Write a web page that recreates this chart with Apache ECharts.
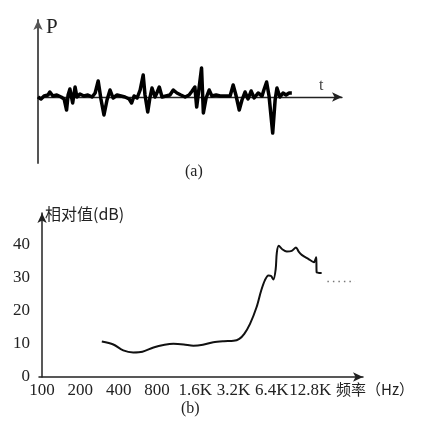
<!DOCTYPE html>
<html>
<head>
<meta charset="utf-8">
<script src="https://cdn.jsdelivr.net/npm/echarts@6/dist/echarts.min.js"></script>
<style>
  html, body { margin: 0; padding: 0; background: #fff; }
  #chart { width: 431px; height: 424px; }
</style>
</head>
<body>
<div id="chart"></div>
<script>
// (a) sound pressure over time: t in arbitrary units, p relative to baseline
const signalT = [0, 1.0, 2.0, 3.3, 3.9, 4.9, 6.2, 7.6, 8.6, 9.4, 9.9, 10.5, 11.4, 12.2, 12.8, 13.8, 15.1, 16.4, 17.8, 18.8,
  19.8, 20.7, 21.7, 22.7, 23.7, 24.7, 26.0, 27.3, 28.6, 30.0, 30.8, 31.6, 32.6, 33.6, 34.6, 35.2, 36.1, 36.8, 37.5, 38.5,
  39.1, 39.9, 40.8, 42.1, 43.4, 44.5, 45.7, 47.0, 48.4, 49.7, 50.7, 51.6, 52.2, 52.9, 53.8, 54.4, 55.3, 56.3, 57.2, 58.6,
  59.9, 61.5, 63.2, 64.2, 65.1, 66.2, 67.1, 68.1, 69.1, 70.1, 71.1, 72.4, 73.7, 74.3, 75.2, 76.0, 77.2, 78.0, 78.6, 79.6,
  80.6, 81.6, 82.6, 83.5];
const signalP = [0, -0.2, 0.1, 0.2, 0.5, 0.1, 0.2, 0, -0.2, -1.3, 0.2, 0.8, -0.6, 1.0, 0, 0.3, 0.1, 0.2, 0, 0.4,
  1.6, -0.2, -1.8, -0.3, 0.7, -0.1, 0.2, 0.1, 0, -0.2, -0.6, 0.1, -0.1, 0.7, 2.2, 0.2, -1.5, -0.1, 0.9, 0,
  0.4, 1.0, 0, 0.1, 0.2, 0.7, 0.4, 0.2, 0, 0.2, 0.6, 1.0, -1.0, 0.7, 2.9, -1.6, -0.1, 0.7, 0.1, 0.2,
  0.1, 0.1, 0.1, 1.2, 0.2, -1.3, -0.3, 0.5, -0.2, 0.6, -0.1, 0.4, 0.1, 0.7, 1.5, 0.1, -3.6, -0.3, 0.9, 0,
  0.4, 0.2, 0.4, 0.4];

// (b) spectrum: octaves above 100 Hz vs relative level in dB
const freqLabels = ['100', '200', '400', '800', '1.6K', '3.2K', '6.4K', '12.8K'];
const octaves = [1.56, 1.86, 2.12, 2.38, 2.62, 2.91, 3.2, 3.43, 3.7, 3.95, 4.2, 4.47, 4.75, 5.0, 5.15, 5.28, 5.43, 5.6,
  5.72, 5.82, 5.91, 5.98, 6.04, 6.1, 6.13, 6.18, 6.28, 6.39, 6.52, 6.63, 6.7, 6.78, 6.95, 7.1, 7.14, 7.16, 7.17, 7.3];
const levels = [10.7, 9.8, 8.0, 7.4, 7.6, 8.9, 9.7, 10.0, 9.8, 9.4, 9.7, 10.5, 10.8, 10.9, 11.5, 13, 16, 21,
  26, 29.2, 30.6, 30.4, 29.4, 32.5, 37.5, 39.5, 38.4, 37.8, 38.0, 39.0, 37.8, 36.8, 35.6, 34.6, 35.5, 36.1, 31.5, 31.3];
const tailOctaves = [7.45, 8.17];
const tailLevels = [28.8, 28.8];
const dbTicks = [0, 10, 20, 30, 40];

const serif = 'Liberation Serif';
const cjk = 'Noto Sans CJK SC';
const axisColor = '#222';

const chart = echarts.init(document.getElementById('chart'));

function label(text, left, top, size, family, color) {
  return {
    type: 'text', left: left, top: top,
    style: { text: text, fontSize: size, fontFamily: family, fill: color || '#222' }
  };
}

const option = {
  animation: false,
  backgroundColor: '#fff',
  grid: [
    { left: 38, top: 20, width: 304, height: 143 },
    { left: 39, top: 213, width: 324, height: 164 }
  ],
  xAxis: [
    {
      gridIndex: 0, type: 'value', min: 0, max: 100,
      axisLine: { onZero: true, symbol: ['none', 'arrow'], symbolSize: [7, 10], lineStyle: { color: axisColor, width: 1.3 } },
      axisTick: { show: false }, axisLabel: { show: false }, splitLine: { show: false }
    },
    {
      gridIndex: 1, type: 'value', min: -0.08, max: 8.38,
      axisLine: { symbol: ['none', 'arrow'], symbolSize: [7, 10], lineStyle: { color: axisColor, width: 1.5 } },
      axisTick: { show: false },
      axisLabel: {
        customValues: [0, 1, 2, 3, 4, 5, 6, 7],
        formatter: v => freqLabels[Math.round(v)],
        margin: 5, color: axisColor, fontFamily: serif, fontSize: 17
      },
      splitLine: { show: false }
    }
  ],
  yAxis: [
    {
      gridIndex: 0, type: 'value', min: -6.6, max: 7.7,
      axisLine: { symbol: ['none', 'arrow'], symbolSize: [7, 10], lineStyle: { color: '#555', width: 2 } },
      axisTick: { show: false }, axisLabel: { show: false }, splitLine: { show: false }
    },
    {
      gridIndex: 1, type: 'value', min: 0, max: 49.4,
      axisLine: { show: true, symbol: ['none', 'arrow'], symbolSize: [7, 10], lineStyle: { color: axisColor, width: 1.5 } },
      axisTick: { show: false },
      axisLabel: {
        customValues: dbTicks,
        margin: 9, color: axisColor, fontFamily: serif, fontSize: 17
      },
      splitLine: { show: false }
    }
  ],
  series: [
    {
      type: 'line', xAxisIndex: 0, yAxisIndex: 0,
      data: signalT.map((t, i) => [t, signalP[i]]),
      showSymbol: false, lineStyle: { color: '#000', width: 3.5, join: 'round' }
    },
    {
      type: 'line', xAxisIndex: 1, yAxisIndex: 1,
      data: octaves.map((o, i) => [o, levels[i]]),
      smooth: 0.3, showSymbol: false, lineStyle: { color: '#111', width: 2 }
    },
    {
      type: 'line', xAxisIndex: 1, yAxisIndex: 1,
      data: tailOctaves.map((o, i) => [o, tailLevels[i]]),
      showSymbol: false, lineStyle: { color: '#777', width: 1.5, type: [1.5, 4] }
    }
  ],
  graphic: [
    label('P', 46, 17, 21, serif),
    label('t', 319, 78, 16, serif, '#444'),
    label('(a)', 185, 164, 16, serif),
    label('相对值(dB)', 45, 206, 16, cjk),
    label('频率（Hz）', 336, 382, 15, cjk),
    label('(b)', 181, 401, 16, serif)
  ]
};

chart.setOption(option);
</script>
</body>
</html>
